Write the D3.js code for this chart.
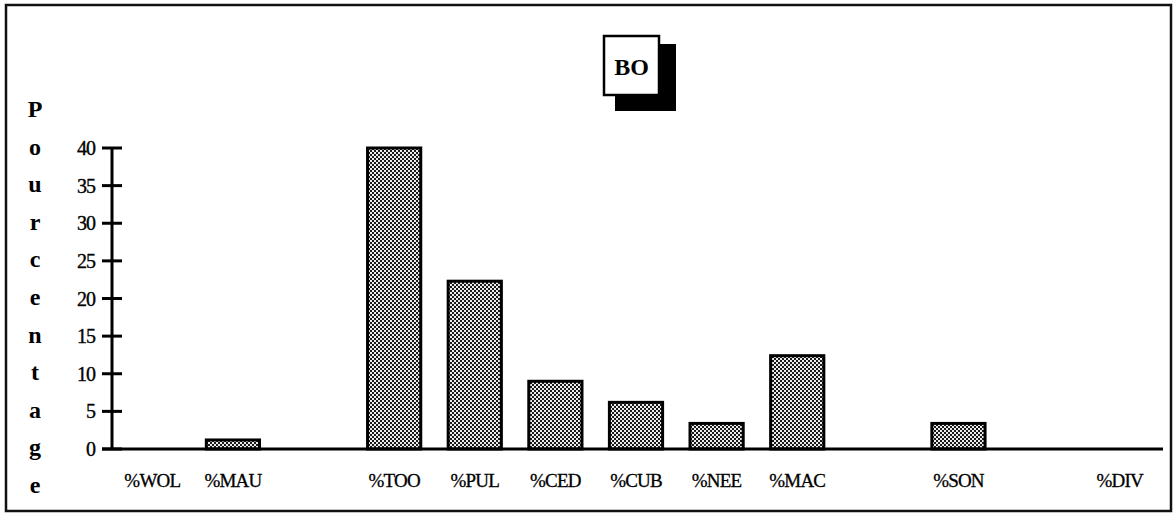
<!DOCTYPE html>
<html>
<head>
<meta charset="utf-8">
<script src="https://cdn.jsdelivr.net/npm/d3@7"></script>
<style>
  html, body { margin: 0; padding: 0; background: #fff; }
  svg { display: block; }
  text { font-family: "Liberation Serif", "Times New Roman", serif; fill: #000; }
</style>
</head>
<body>
<svg id="chart" width="1176" height="516"></svg>
<script>
// ---- data ----
const title = "BO";
const yAxisLetters = ["P","o","u","r","c","e","n","t","a","g","e"];
const categories = ["%WOL","%MAU","gap1","%TOO","%PUL","%CED","%CUB","%NEE","%MAC","gap2","%SON","gap3","%DIV"];
const values     = [0,      1.2,    null,  40,     22.3,   9,      6.2,    3.4,    12.4,   null,  3.4,    null,  0];
const yTicks = [0, 5, 10, 15, 20, 25, 30, 35, 40];

// ---- layout ----
const svg = d3.select("#chart");
const axisX = 112, baseY = 449, topY = 148, axisEnd = 1160;

const x = d3.scaleBand().domain(categories).range([axisX, axisEnd]).paddingInner(0.34).paddingOuter(0.17);
const y = d3.scaleLinear().domain([0, 40]).range([baseY, topY]);

// checker pattern
const defs = svg.append("defs");
const pat = defs.append("pattern").attr("id", "checker").attr("patternUnits", "userSpaceOnUse")
  .attr("width", 4).attr("height", 4);
pat.append("rect").attr("width", 4).attr("height", 4).attr("fill", "#ececec");
pat.append("rect").attr("x", 0).attr("y", 0).attr("width", 2).attr("height", 2).attr("fill", "#1a1a1a");
pat.append("rect").attr("x", 2).attr("y", 2).attr("width", 2).attr("height", 2).attr("fill", "#1a1a1a");

// frame
svg.append("rect").attr("x", 6).attr("y", 5).attr("width", 1165).attr("height", 506)
  .attr("fill", "none").attr("stroke", "#111").attr("stroke-width", 2.5);

// title box
svg.append("rect").attr("x", 615).attr("y", 44).attr("width", 61).attr("height", 67).attr("fill", "#000");
svg.append("rect").attr("x", 604).attr("y", 36).attr("width", 55).attr("height", 59)
  .attr("fill", "#fff").attr("stroke", "#000").attr("stroke-width", 2.5);
svg.append("text").attr("x", 631.5).attr("y", 75).attr("text-anchor", "middle")
  .style("font-size", "24px").style("font-weight", "bold").text(title);

// y label stacked letters
svg.append("g").selectAll("text").data(yAxisLetters).join("text")
  .attr("x", 35).attr("y", (d, i) => 117 + i * 37.6)
  .attr("text-anchor", "middle")
  .style("font-size", "24px").style("font-weight", "bold")
  .text(d => d);

// bars
const barData = categories.map((c, i) => ({ c, v: values[i] })).filter(d => d.v !== null && d.v > 0);
svg.append("g").selectAll("rect").data(barData).join("rect")
  .attr("x", d => x(d.c))
  .attr("y", d => y(d.v))
  .attr("width", x.bandwidth())
  .attr("height", d => y(0) - y(d.v))
  .attr("fill", "url(#checker)")
  .attr("stroke", "#000").attr("stroke-width", 3);

// y axis
const yAxis = d3.axisLeft(y).tickValues(yTicks).tickSize(0).tickPadding(17);
const gy = svg.append("g").attr("transform", `translate(${axisX},0)`).call(yAxis);
gy.select(".domain").remove();
gy.selectAll("text").style("font-size", "20px").style("font-family", "Liberation Serif, serif")
  .attr("letter-spacing", "-1px").attr("dy", "0.33em")
  .attr("stroke", "#000").attr("stroke-width", 0.35);
svg.append("line").attr("x1", axisX).attr("x2", axisX).attr("y1", topY).attr("y2", baseY)
  .attr("stroke", "#000").attr("stroke-width", 3);
svg.append("g").selectAll("line").data(yTicks).join("line")
  .attr("x1", axisX - 10).attr("x2", axisX + 10)
  .attr("y1", d => y(d)).attr("y2", d => y(d))
  .attr("stroke", "#000").attr("stroke-width", 3);

// x axis baseline
svg.append("line").attr("x1", axisX - 10).attr("x2", 1163).attr("y1", baseY).attr("y2", baseY)
  .attr("stroke", "#000").attr("stroke-width", 3);

// x labels
const xAxis = d3.axisBottom(x).tickSize(0).tickPadding(0).tickFormat(d => d.startsWith("gap") ? "" : d);
const gx = svg.append("g").attr("transform", `translate(0,${baseY})`).call(xAxis);
gx.select(".domain").remove();
gx.selectAll("text").style("font-size", "19px").style("font-family", "Liberation Serif, serif")
  .attr("letter-spacing", "-0.8px").attr("y", 38).attr("dy", "0")
  .attr("stroke", "#000").attr("stroke-width", 0.3);
</script>
</body>
</html>
